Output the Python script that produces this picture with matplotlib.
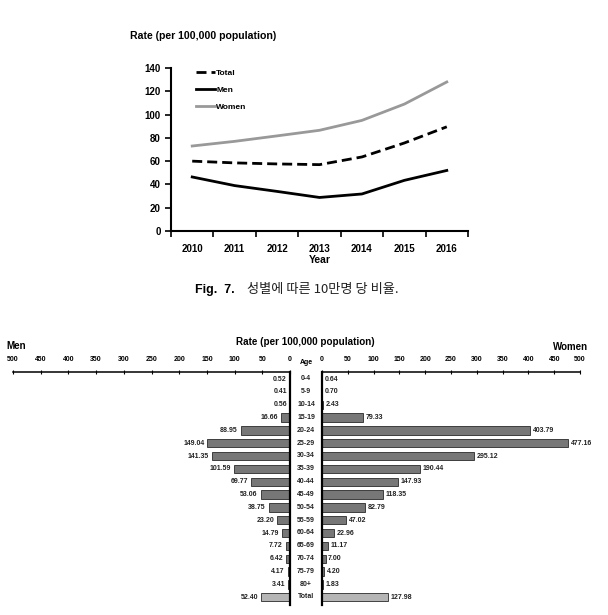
import matplotlib
matplotlib.use('Agg')
import matplotlib.pyplot as plt
import numpy as np

plt.rcParams['font.family'] = ['Liberation Sans', 'Noto Sans CJK KR', 'DejaVu Sans']

# line chart data
years = ['2010', '2011', '2012', '2013', '2014', '2015', '2016']
total = [60, 58.5, 57.6, 57, 63.6, 75.6, 89.5]
men = [46.4, 39, 34, 28.8, 31.8, 43.5, 52]
women = [73, 77, 81.7, 86.5, 95, 109, 128]

# age group data
ages = ['0-4', '5-9', '10-14', '15-19', '20-24', '25-29', '30-34', '35-39', '40-44',
        '45-49', '50-54', '55-59', '60-64', '65-69', '70-74', '75-79', '80+', 'Total']
men_age = [0.52, 0.41, 0.56, 16.66, 88.95, 149.04, 141.35, 101.59, 69.77,
           53.06, 38.75, 23.20, 14.79, 7.72, 6.42, 4.17, 3.41, 52.40]
women_age = [0.64, 0.70, 2.43, 79.33, 403.79, 477.16, 295.12, 190.44, 147.93,
             118.35, 82.79, 47.02, 22.96, 11.17, 7.00, 4.20, 1.83, 127.98]

W, H = 608, 615
fig = plt.figure(figsize=(W / 100, H / 100), dpi=100)


def box(l, t, r, b):
    return [l / W, 1 - b / H, (r - l) / W, (b - t) / H]


# ---- top line chart ----
ax = fig.add_axes(box(171, 68, 468, 231))
x = np.arange(len(years))
ax.plot(x, total, color='black', lw=2, ls=(0, (3.6, 1.8)), label='Total')
ax.plot(x, men, color='black', lw=2, label='Men')
ax.plot(x, women, color='#999999', lw=2, label='Women')
ax.set_xlim(-0.5, len(years) - 0.5)
ax.set_ylim(0, 140)
ax.set_yticks(range(0, 141, 20))
ax.set_xticks(x)
ax.set_xticklabels(years)
ax.set_xticks(np.arange(-0.5, len(years), 1), minor=True)
ax.tick_params(axis='x', which='major', length=0, pad=9)
ax.tick_params(axis='x', which='minor', length=4, width=1.2, direction='out')
ax.tick_params(axis='y', length=4, width=1.2, direction='out')
for lab in ax.get_xticklabels() + ax.get_yticklabels():
    lab.set_fontsize(7)
    lab.set_fontweight('bold')
for s in ['top', 'right']:
    ax.spines[s].set_visible(False)
for s in ['left', 'bottom']:
    ax.spines[s].set_linewidth(1.5)
ax.set_xlabel('Year', fontsize=7.5, fontweight='bold', labelpad=1)
leg = ax.legend(loc='upper left', frameon=False, fontsize=6, handlelength=2.2,
                handletextpad=0.2, labelspacing=1.1, bbox_to_anchor=(0.06, 1.04))
for t in leg.get_texts():
    t.set_fontweight('bold')
fig.text(130 / W, 1 - 36 / H, 'Rate (per 100,000 population)', fontsize=7.6,
         fontweight='bold', va='center', ha='left')

# caption
fig.text(195 / W, 1 - 290 / H, 'Fig.  7.', fontsize=9, fontweight='bold', va='center')
fig.text(247 / W, 1 - 290 / H, '성별에 따른 10만명 당 비율.', fontsize=9.5,
         family=['Noto Sans CJK KR', 'DejaVu Sans'], va='center', color='#222222')

# ---- bottom pyramid ----
axl = fig.add_axes(box(13, 372, 290, 605))
axr = fig.add_axes(box(322, 372, 580, 605))
y = np.arange(len(ages))
colors = ['#777777'] * (len(ages) - 1) + ['#b5b5b5']
axl.barh(y, men_age, height=0.65, color=colors, edgecolor='#2a2a2a', lw=0.6)
axr.barh(y, women_age, height=0.65, color=colors, edgecolor='#2a2a2a', lw=0.6)

for a in (axl, axr):
    a.set_ylim(len(ages) - 0.4, -0.55)
    a.set_yticks([])
    a.set_xticks(range(0, 501, 50))
    a.xaxis.tick_top()
    a.tick_params(axis='x', length=3, width=0.8, direction='inout', pad=5,
                  labelsize=5)
    for lab in a.get_xticklabels():
        lab.set_fontweight('bold')
    for s in a.spines.values():
        s.set_visible(False)
    a.spines['top'].set_visible(True)
    a.spines['top'].set_linewidth(1.1)

axl.set_xlim(500, 0)
axr.set_xlim(0, 500)
axl.spines['right'].set_visible(True)
axl.spines['right'].set_linewidth(1.6)
axr.spines['left'].set_visible(True)
axr.spines['left'].set_linewidth(1.6)

for i, v in enumerate(men_age):
    axl.text(v + 5, i, f'{v:.2f}', ha='right', va='center', fontsize=5,
             fontweight='bold', color='#222222')
for i, v in enumerate(women_age):
    axr.text(v + 5, i, f'{v:.2f}', ha='left', va='center', fontsize=5,
             fontweight='bold', color='#222222')

# age labels in the gap
for i, a in enumerate(ages):
    yy = 379 + i * (597 - 379) / (len(ages) - 1)
    fig.text(306 / W, 1 - yy / H, a, fontsize=5, fontweight='bold',
             ha='center', va='center', color='#222222')
fig.text(306 / W, 1 - 362 / H, 'Age', fontsize=5, fontweight='bold',
         ha='center', va='center')

fig.text(6 / W, 1 - 346 / H, 'Men', fontsize=7, fontweight='bold', va='center')
fig.text(588 / W, 1 - 347 / H, 'Women', fontsize=7, fontweight='bold',
         va='center', ha='right')
fig.text(305 / W, 1 - 342 / H, 'Rate (per 100,000 population)', fontsize=7.1,
         fontweight='bold', va='center', ha='center')

fig.savefig('out.png', dpi=100, facecolor='white')
